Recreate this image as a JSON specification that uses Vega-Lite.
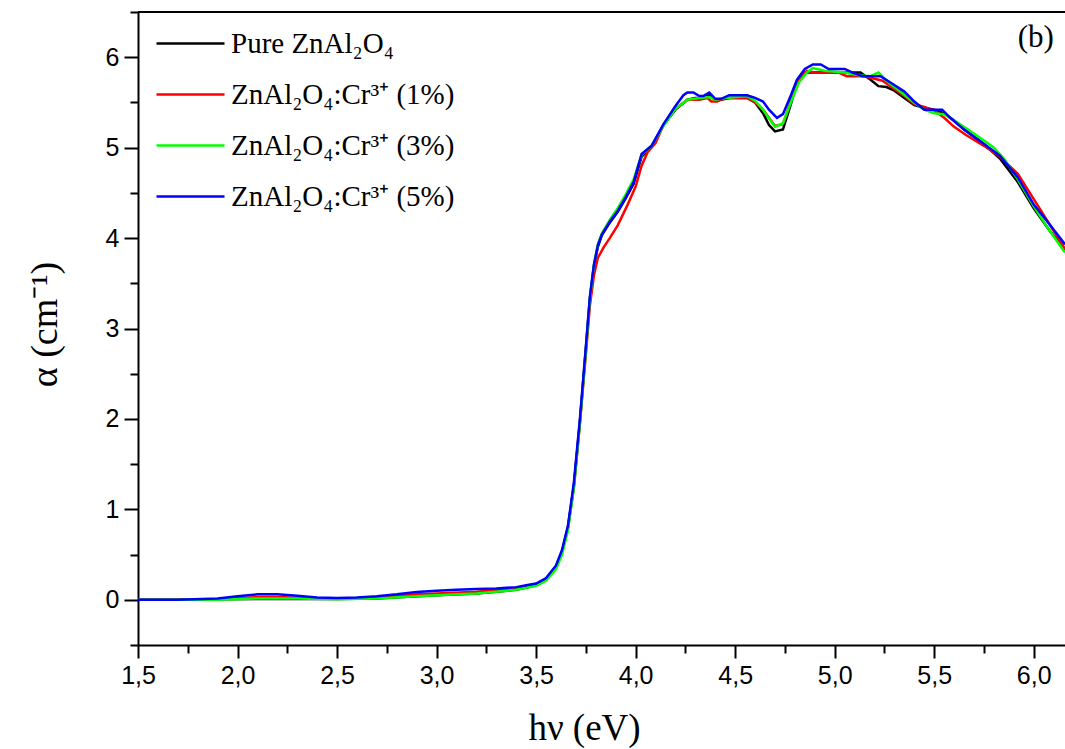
{
  "$schema": "https://vega.github.io/schema/vega-lite/v6.json",
  "width": 927,
  "height": 633,
  "autosize": {"type": "none"},
  "padding": {"left": 138, "top": 12, "right": 0, "bottom": 104},
  "background": "white",
  "config": {"view": {"stroke": null}},
  "datasets": {
    "curves": [
      {"s":"Pure ZnAl₂O₄","x":1.5,"y":0},{"s":"Pure ZnAl₂O₄","x":1.7,"y":0},{"s":"Pure ZnAl₂O₄","x":1.9,"y":0.005},{"s":"Pure ZnAl₂O₄","x":2.1,"y":0.01},{"s":"Pure ZnAl₂O₄","x":2.3,"y":0.01},{"s":"Pure ZnAl₂O₄","x":2.5,"y":0.008},{"s":"Pure ZnAl₂O₄","x":2.7,"y":0.015},{"s":"Pure ZnAl₂O₄","x":2.9,"y":0.04},{"s":"Pure ZnAl₂O₄","x":3.0,"y":0.05},{"s":"Pure ZnAl₂O₄","x":3.2,"y":0.07},{"s":"Pure ZnAl₂O₄","x":3.4,"y":0.11},{"s":"Pure ZnAl₂O₄","x":3.5,"y":0.16},{"s":"Pure ZnAl₂O₄","x":3.55,"y":0.22},{"s":"Pure ZnAl₂O₄","x":3.6,"y":0.36},{"s":"Pure ZnAl₂O₄","x":3.63,"y":0.53},{"s":"Pure ZnAl₂O₄","x":3.66,"y":0.8},{"s":"Pure ZnAl₂O₄","x":3.69,"y":1.27},{"s":"Pure ZnAl₂O₄","x":3.72,"y":1.97},{"s":"Pure ZnAl₂O₄","x":3.75,"y":2.78},{"s":"Pure ZnAl₂O₄","x":3.77,"y":3.33},{"s":"Pure ZnAl₂O₄","x":3.79,"y":3.68},{"s":"Pure ZnAl₂O₄","x":3.81,"y":3.9},{"s":"Pure ZnAl₂O₄","x":3.83,"y":4.03},{"s":"Pure ZnAl₂O₄","x":3.87,"y":4.17},{"s":"Pure ZnAl₂O₄","x":3.91,"y":4.29},{"s":"Pure ZnAl₂O₄","x":3.95,"y":4.44},{"s":"Pure ZnAl₂O₄","x":3.99,"y":4.6},{"s":"Pure ZnAl₂O₄","x":4.03,"y":4.9},{"s":"Pure ZnAl₂O₄","x":4.08,"y":5.01},{"s":"Pure ZnAl₂O₄","x":4.14,"y":5.25},{"s":"Pure ZnAl₂O₄","x":4.2,"y":5.42},{"s":"Pure ZnAl₂O₄","x":4.26,"y":5.53},{"s":"Pure ZnAl₂O₄","x":4.3,"y":5.55},{"s":"Pure ZnAl₂O₄","x":4.34,"y":5.55},{"s":"Pure ZnAl₂O₄","x":4.37,"y":5.58},{"s":"Pure ZnAl₂O₄","x":4.4,"y":5.53},{"s":"Pure ZnAl₂O₄","x":4.43,"y":5.53},{"s":"Pure ZnAl₂O₄","x":4.47,"y":5.55},{"s":"Pure ZnAl₂O₄","x":4.56,"y":5.55},{"s":"Pure ZnAl₂O₄","x":4.6,"y":5.5},{"s":"Pure ZnAl₂O₄","x":4.64,"y":5.38},{"s":"Pure ZnAl₂O₄","x":4.67,"y":5.25},{"s":"Pure ZnAl₂O₄","x":4.7,"y":5.18},{"s":"Pure ZnAl₂O₄","x":4.74,"y":5.2},{"s":"Pure ZnAl₂O₄","x":4.78,"y":5.48},{"s":"Pure ZnAl₂O₄","x":4.81,"y":5.72},{"s":"Pure ZnAl₂O₄","x":4.85,"y":5.83},{"s":"Pure ZnAl₂O₄","x":4.89,"y":5.83},{"s":"Pure ZnAl₂O₄","x":5.0,"y":5.83},{"s":"Pure ZnAl₂O₄","x":5.13,"y":5.83},{"s":"Pure ZnAl₂O₄","x":5.18,"y":5.75},{"s":"Pure ZnAl₂O₄","x":5.22,"y":5.68},{"s":"Pure ZnAl₂O₄","x":5.26,"y":5.67},{"s":"Pure ZnAl₂O₄","x":5.3,"y":5.63},{"s":"Pure ZnAl₂O₄","x":5.35,"y":5.55},{"s":"Pure ZnAl₂O₄","x":5.4,"y":5.47},{"s":"Pure ZnAl₂O₄","x":5.45,"y":5.44},{"s":"Pure ZnAl₂O₄","x":5.5,"y":5.42},{"s":"Pure ZnAl₂O₄","x":5.55,"y":5.38},{"s":"Pure ZnAl₂O₄","x":5.6,"y":5.3},{"s":"Pure ZnAl₂O₄","x":5.65,"y":5.2},{"s":"Pure ZnAl₂O₄","x":5.75,"y":5.04},{"s":"Pure ZnAl₂O₄","x":5.83,"y":4.88},{"s":"Pure ZnAl₂O₄","x":5.92,"y":4.62},{"s":"Pure ZnAl₂O₄","x":6.0,"y":4.33},{"s":"Pure ZnAl₂O₄","x":6.08,"y":4.08},{"s":"Pure ZnAl₂O₄","x":6.157,"y":3.87},

      {"s":"ZnAl₂O₄:Cr³⁺ (1%)","x":1.5,"y":0},{"s":"ZnAl₂O₄:Cr³⁺ (1%)","x":1.7,"y":0},{"s":"ZnAl₂O₄:Cr³⁺ (1%)","x":1.9,"y":0.01},{"s":"ZnAl₂O₄:Cr³⁺ (1%)","x":2.1,"y":0.03},{"s":"ZnAl₂O₄:Cr³⁺ (1%)","x":2.2,"y":0.03},{"s":"ZnAl₂O₄:Cr³⁺ (1%)","x":2.4,"y":0.015},{"s":"ZnAl₂O₄:Cr³⁺ (1%)","x":2.5,"y":0.012},{"s":"ZnAl₂O₄:Cr³⁺ (1%)","x":2.7,"y":0.025},{"s":"ZnAl₂O₄:Cr³⁺ (1%)","x":2.9,"y":0.06},{"s":"ZnAl₂O₄:Cr³⁺ (1%)","x":3.0,"y":0.07},{"s":"ZnAl₂O₄:Cr³⁺ (1%)","x":3.2,"y":0.09},{"s":"ZnAl₂O₄:Cr³⁺ (1%)","x":3.4,"y":0.125},{"s":"ZnAl₂O₄:Cr³⁺ (1%)","x":3.5,"y":0.17},{"s":"ZnAl₂O₄:Cr³⁺ (1%)","x":3.55,"y":0.23},{"s":"ZnAl₂O₄:Cr³⁺ (1%)","x":3.6,"y":0.37},{"s":"ZnAl₂O₄:Cr³⁺ (1%)","x":3.63,"y":0.53},{"s":"ZnAl₂O₄:Cr³⁺ (1%)","x":3.66,"y":0.8},{"s":"ZnAl₂O₄:Cr³⁺ (1%)","x":3.69,"y":1.25},{"s":"ZnAl₂O₄:Cr³⁺ (1%)","x":3.72,"y":1.95},{"s":"ZnAl₂O₄:Cr³⁺ (1%)","x":3.75,"y":2.72},{"s":"ZnAl₂O₄:Cr³⁺ (1%)","x":3.77,"y":3.25},{"s":"ZnAl₂O₄:Cr³⁺ (1%)","x":3.79,"y":3.58},{"s":"ZnAl₂O₄:Cr³⁺ (1%)","x":3.81,"y":3.78},{"s":"ZnAl₂O₄:Cr³⁺ (1%)","x":3.84,"y":3.9},{"s":"ZnAl₂O₄:Cr³⁺ (1%)","x":3.87,"y":4.0},{"s":"ZnAl₂O₄:Cr³⁺ (1%)","x":3.91,"y":4.14},{"s":"ZnAl₂O₄:Cr³⁺ (1%)","x":3.96,"y":4.37},{"s":"ZnAl₂O₄:Cr³⁺ (1%)","x":4.0,"y":4.57},{"s":"ZnAl₂O₄:Cr³⁺ (1%)","x":4.03,"y":4.8},{"s":"ZnAl₂O₄:Cr³⁺ (1%)","x":4.06,"y":4.95},{"s":"ZnAl₂O₄:Cr³⁺ (1%)","x":4.1,"y":5.05},{"s":"ZnAl₂O₄:Cr³⁺ (1%)","x":4.14,"y":5.25},{"s":"ZnAl₂O₄:Cr³⁺ (1%)","x":4.2,"y":5.43},{"s":"ZnAl₂O₄:Cr³⁺ (1%)","x":4.26,"y":5.53},{"s":"ZnAl₂O₄:Cr³⁺ (1%)","x":4.32,"y":5.53},{"s":"ZnAl₂O₄:Cr³⁺ (1%)","x":4.36,"y":5.55},{"s":"ZnAl₂O₄:Cr³⁺ (1%)","x":4.38,"y":5.51},{"s":"ZnAl₂O₄:Cr³⁺ (1%)","x":4.41,"y":5.51},{"s":"ZnAl₂O₄:Cr³⁺ (1%)","x":4.45,"y":5.55},{"s":"ZnAl₂O₄:Cr³⁺ (1%)","x":4.56,"y":5.55},{"s":"ZnAl₂O₄:Cr³⁺ (1%)","x":4.6,"y":5.5},{"s":"ZnAl₂O₄:Cr³⁺ (1%)","x":4.64,"y":5.42},{"s":"ZnAl₂O₄:Cr³⁺ (1%)","x":4.7,"y":5.24},{"s":"ZnAl₂O₄:Cr³⁺ (1%)","x":4.74,"y":5.26},{"s":"ZnAl₂O₄:Cr³⁺ (1%)","x":4.78,"y":5.52},{"s":"ZnAl₂O₄:Cr³⁺ (1%)","x":4.81,"y":5.72},{"s":"ZnAl₂O₄:Cr³⁺ (1%)","x":4.86,"y":5.85},{"s":"ZnAl₂O₄:Cr³⁺ (1%)","x":4.9,"y":5.83},{"s":"ZnAl₂O₄:Cr³⁺ (1%)","x":5.02,"y":5.83},{"s":"ZnAl₂O₄:Cr³⁺ (1%)","x":5.06,"y":5.79},{"s":"ZnAl₂O₄:Cr³⁺ (1%)","x":5.15,"y":5.79},{"s":"ZnAl₂O₄:Cr³⁺ (1%)","x":5.24,"y":5.74},{"s":"ZnAl₂O₄:Cr³⁺ (1%)","x":5.3,"y":5.65},{"s":"ZnAl₂O₄:Cr³⁺ (1%)","x":5.35,"y":5.57},{"s":"ZnAl₂O₄:Cr³⁺ (1%)","x":5.4,"y":5.48},{"s":"ZnAl₂O₄:Cr³⁺ (1%)","x":5.45,"y":5.45},{"s":"ZnAl₂O₄:Cr³⁺ (1%)","x":5.5,"y":5.41},{"s":"ZnAl₂O₄:Cr³⁺ (1%)","x":5.55,"y":5.33},{"s":"ZnAl₂O₄:Cr³⁺ (1%)","x":5.6,"y":5.23},{"s":"ZnAl₂O₄:Cr³⁺ (1%)","x":5.66,"y":5.14},{"s":"ZnAl₂O₄:Cr³⁺ (1%)","x":5.75,"y":5.02},{"s":"ZnAl₂O₄:Cr³⁺ (1%)","x":5.83,"y":4.9},{"s":"ZnAl₂O₄:Cr³⁺ (1%)","x":5.92,"y":4.71},{"s":"ZnAl₂O₄:Cr³⁺ (1%)","x":6.0,"y":4.43},{"s":"ZnAl₂O₄:Cr³⁺ (1%)","x":6.08,"y":4.15},{"s":"ZnAl₂O₄:Cr³⁺ (1%)","x":6.157,"y":3.88},

      {"s":"ZnAl₂O₄:Cr³⁺ (3%)","x":1.5,"y":0},{"s":"ZnAl₂O₄:Cr³⁺ (3%)","x":1.7,"y":0},{"s":"ZnAl₂O₄:Cr³⁺ (3%)","x":1.9,"y":0.0},{"s":"ZnAl₂O₄:Cr³⁺ (3%)","x":2.1,"y":0.015},{"s":"ZnAl₂O₄:Cr³⁺ (3%)","x":2.3,"y":0.015},{"s":"ZnAl₂O₄:Cr³⁺ (3%)","x":2.5,"y":0.005},{"s":"ZnAl₂O₄:Cr³⁺ (3%)","x":2.7,"y":0.015},{"s":"ZnAl₂O₄:Cr³⁺ (3%)","x":2.9,"y":0.04},{"s":"ZnAl₂O₄:Cr³⁺ (3%)","x":3.0,"y":0.05},{"s":"ZnAl₂O₄:Cr³⁺ (3%)","x":3.2,"y":0.07},{"s":"ZnAl₂O₄:Cr³⁺ (3%)","x":3.4,"y":0.11},{"s":"ZnAl₂O₄:Cr³⁺ (3%)","x":3.5,"y":0.155},{"s":"ZnAl₂O₄:Cr³⁺ (3%)","x":3.55,"y":0.21},{"s":"ZnAl₂O₄:Cr³⁺ (3%)","x":3.6,"y":0.34},{"s":"ZnAl₂O₄:Cr³⁺ (3%)","x":3.63,"y":0.5},{"s":"ZnAl₂O₄:Cr³⁺ (3%)","x":3.66,"y":0.77},{"s":"ZnAl₂O₄:Cr³⁺ (3%)","x":3.69,"y":1.24},{"s":"ZnAl₂O₄:Cr³⁺ (3%)","x":3.72,"y":1.95},{"s":"ZnAl₂O₄:Cr³⁺ (3%)","x":3.75,"y":2.75},{"s":"ZnAl₂O₄:Cr³⁺ (3%)","x":3.77,"y":3.32},{"s":"ZnAl₂O₄:Cr³⁺ (3%)","x":3.79,"y":3.7},{"s":"ZnAl₂O₄:Cr³⁺ (3%)","x":3.81,"y":3.93},{"s":"ZnAl₂O₄:Cr³⁺ (3%)","x":3.83,"y":4.05},{"s":"ZnAl₂O₄:Cr³⁺ (3%)","x":3.87,"y":4.2},{"s":"ZnAl₂O₄:Cr³⁺ (3%)","x":3.91,"y":4.33},{"s":"ZnAl₂O₄:Cr³⁺ (3%)","x":3.95,"y":4.48},{"s":"ZnAl₂O₄:Cr³⁺ (3%)","x":3.99,"y":4.65},{"s":"ZnAl₂O₄:Cr³⁺ (3%)","x":4.03,"y":4.92},{"s":"ZnAl₂O₄:Cr³⁺ (3%)","x":4.08,"y":5.02},{"s":"ZnAl₂O₄:Cr³⁺ (3%)","x":4.14,"y":5.24},{"s":"ZnAl₂O₄:Cr³⁺ (3%)","x":4.2,"y":5.43},{"s":"ZnAl₂O₄:Cr³⁺ (3%)","x":4.26,"y":5.53},{"s":"ZnAl₂O₄:Cr³⁺ (3%)","x":4.32,"y":5.55},{"s":"ZnAl₂O₄:Cr³⁺ (3%)","x":4.37,"y":5.56},{"s":"ZnAl₂O₄:Cr³⁺ (3%)","x":4.4,"y":5.53},{"s":"ZnAl₂O₄:Cr³⁺ (3%)","x":4.45,"y":5.55},{"s":"ZnAl₂O₄:Cr³⁺ (3%)","x":4.56,"y":5.57},{"s":"ZnAl₂O₄:Cr³⁺ (3%)","x":4.6,"y":5.52},{"s":"ZnAl₂O₄:Cr³⁺ (3%)","x":4.64,"y":5.42},{"s":"ZnAl₂O₄:Cr³⁺ (3%)","x":4.7,"y":5.23},{"s":"ZnAl₂O₄:Cr³⁺ (3%)","x":4.74,"y":5.27},{"s":"ZnAl₂O₄:Cr³⁺ (3%)","x":4.78,"y":5.5},{"s":"ZnAl₂O₄:Cr³⁺ (3%)","x":4.82,"y":5.72},{"s":"ZnAl₂O₄:Cr³⁺ (3%)","x":4.86,"y":5.83},{"s":"ZnAl₂O₄:Cr³⁺ (3%)","x":4.89,"y":5.88},{"s":"ZnAl₂O₄:Cr³⁺ (3%)","x":4.95,"y":5.85},{"s":"ZnAl₂O₄:Cr³⁺ (3%)","x":5.05,"y":5.83},{"s":"ZnAl₂O₄:Cr³⁺ (3%)","x":5.12,"y":5.8},{"s":"ZnAl₂O₄:Cr³⁺ (3%)","x":5.18,"y":5.79},{"s":"ZnAl₂O₄:Cr³⁺ (3%)","x":5.22,"y":5.83},{"s":"ZnAl₂O₄:Cr³⁺ (3%)","x":5.27,"y":5.72},{"s":"ZnAl₂O₄:Cr³⁺ (3%)","x":5.33,"y":5.62},{"s":"ZnAl₂O₄:Cr³⁺ (3%)","x":5.38,"y":5.53},{"s":"ZnAl₂O₄:Cr³⁺ (3%)","x":5.45,"y":5.42},{"s":"ZnAl₂O₄:Cr³⁺ (3%)","x":5.5,"y":5.38},{"s":"ZnAl₂O₄:Cr³⁺ (3%)","x":5.55,"y":5.37},{"s":"ZnAl₂O₄:Cr³⁺ (3%)","x":5.6,"y":5.3},{"s":"ZnAl₂O₄:Cr³⁺ (3%)","x":5.67,"y":5.2},{"s":"ZnAl₂O₄:Cr³⁺ (3%)","x":5.75,"y":5.08},{"s":"ZnAl₂O₄:Cr³⁺ (3%)","x":5.8,"y":5.0},{"s":"ZnAl₂O₄:Cr³⁺ (3%)","x":5.85,"y":4.88},{"s":"ZnAl₂O₄:Cr³⁺ (3%)","x":5.92,"y":4.65},{"s":"ZnAl₂O₄:Cr³⁺ (3%)","x":6.0,"y":4.35},{"s":"ZnAl₂O₄:Cr³⁺ (3%)","x":6.08,"y":4.08},{"s":"ZnAl₂O₄:Cr³⁺ (3%)","x":6.157,"y":3.84},

      {"s":"ZnAl₂O₄:Cr³⁺ (5%)","x":1.5,"y":0},{"s":"ZnAl₂O₄:Cr³⁺ (5%)","x":1.7,"y":0},{"s":"ZnAl₂O₄:Cr³⁺ (5%)","x":1.9,"y":0.015},{"s":"ZnAl₂O₄:Cr³⁺ (5%)","x":2.0,"y":0.04},{"s":"ZnAl₂O₄:Cr³⁺ (5%)","x":2.1,"y":0.06},{"s":"ZnAl₂O₄:Cr³⁺ (5%)","x":2.2,"y":0.06},{"s":"ZnAl₂O₄:Cr³⁺ (5%)","x":2.3,"y":0.045},{"s":"ZnAl₂O₄:Cr³⁺ (5%)","x":2.4,"y":0.025},{"s":"ZnAl₂O₄:Cr³⁺ (5%)","x":2.5,"y":0.02},{"s":"ZnAl₂O₄:Cr³⁺ (5%)","x":2.6,"y":0.025},{"s":"ZnAl₂O₄:Cr³⁺ (5%)","x":2.7,"y":0.04},{"s":"ZnAl₂O₄:Cr³⁺ (5%)","x":2.8,"y":0.06},{"s":"ZnAl₂O₄:Cr³⁺ (5%)","x":2.9,"y":0.085},{"s":"ZnAl₂O₄:Cr³⁺ (5%)","x":3.0,"y":0.1},{"s":"ZnAl₂O₄:Cr³⁺ (5%)","x":3.1,"y":0.11},{"s":"ZnAl₂O₄:Cr³⁺ (5%)","x":3.2,"y":0.12},{"s":"ZnAl₂O₄:Cr³⁺ (5%)","x":3.3,"y":0.125},{"s":"ZnAl₂O₄:Cr³⁺ (5%)","x":3.4,"y":0.14},{"s":"ZnAl₂O₄:Cr³⁺ (5%)","x":3.45,"y":0.16},{"s":"ZnAl₂O₄:Cr³⁺ (5%)","x":3.5,"y":0.18},{"s":"ZnAl₂O₄:Cr³⁺ (5%)","x":3.55,"y":0.24},{"s":"ZnAl₂O₄:Cr³⁺ (5%)","x":3.6,"y":0.38},{"s":"ZnAl₂O₄:Cr³⁺ (5%)","x":3.63,"y":0.55},{"s":"ZnAl₂O₄:Cr³⁺ (5%)","x":3.66,"y":0.82},{"s":"ZnAl₂O₄:Cr³⁺ (5%)","x":3.69,"y":1.3},{"s":"ZnAl₂O₄:Cr³⁺ (5%)","x":3.72,"y":2.0},{"s":"ZnAl₂O₄:Cr³⁺ (5%)","x":3.75,"y":2.8},{"s":"ZnAl₂O₄:Cr³⁺ (5%)","x":3.77,"y":3.35},{"s":"ZnAl₂O₄:Cr³⁺ (5%)","x":3.79,"y":3.7},{"s":"ZnAl₂O₄:Cr³⁺ (5%)","x":3.81,"y":3.92},{"s":"ZnAl₂O₄:Cr³⁺ (5%)","x":3.83,"y":4.04},{"s":"ZnAl₂O₄:Cr³⁺ (5%)","x":3.87,"y":4.18},{"s":"ZnAl₂O₄:Cr³⁺ (5%)","x":3.91,"y":4.3},{"s":"ZnAl₂O₄:Cr³⁺ (5%)","x":3.95,"y":4.45},{"s":"ZnAl₂O₄:Cr³⁺ (5%)","x":3.99,"y":4.62},{"s":"ZnAl₂O₄:Cr³⁺ (5%)","x":4.03,"y":4.93},{"s":"ZnAl₂O₄:Cr³⁺ (5%)","x":4.08,"y":5.02},{"s":"ZnAl₂O₄:Cr³⁺ (5%)","x":4.14,"y":5.26},{"s":"ZnAl₂O₄:Cr³⁺ (5%)","x":4.2,"y":5.46},{"s":"ZnAl₂O₄:Cr³⁺ (5%)","x":4.24,"y":5.58},{"s":"ZnAl₂O₄:Cr³⁺ (5%)","x":4.26,"y":5.61},{"s":"ZnAl₂O₄:Cr³⁺ (5%)","x":4.29,"y":5.61},{"s":"ZnAl₂O₄:Cr³⁺ (5%)","x":4.32,"y":5.57},{"s":"ZnAl₂O₄:Cr³⁺ (5%)","x":4.34,"y":5.57},{"s":"ZnAl₂O₄:Cr³⁺ (5%)","x":4.37,"y":5.61},{"s":"ZnAl₂O₄:Cr³⁺ (5%)","x":4.4,"y":5.54},{"s":"ZnAl₂O₄:Cr³⁺ (5%)","x":4.43,"y":5.54},{"s":"ZnAl₂O₄:Cr³⁺ (5%)","x":4.47,"y":5.58},{"s":"ZnAl₂O₄:Cr³⁺ (5%)","x":4.56,"y":5.58},{"s":"ZnAl₂O₄:Cr³⁺ (5%)","x":4.6,"y":5.55},{"s":"ZnAl₂O₄:Cr³⁺ (5%)","x":4.64,"y":5.51},{"s":"ZnAl₂O₄:Cr³⁺ (5%)","x":4.67,"y":5.42},{"s":"ZnAl₂O₄:Cr³⁺ (5%)","x":4.71,"y":5.33},{"s":"ZnAl₂O₄:Cr³⁺ (5%)","x":4.74,"y":5.37},{"s":"ZnAl₂O₄:Cr³⁺ (5%)","x":4.78,"y":5.58},{"s":"ZnAl₂O₄:Cr³⁺ (5%)","x":4.81,"y":5.75},{"s":"ZnAl₂O₄:Cr³⁺ (5%)","x":4.85,"y":5.87},{"s":"ZnAl₂O₄:Cr³⁺ (5%)","x":4.89,"y":5.92},{"s":"ZnAl₂O₄:Cr³⁺ (5%)","x":4.93,"y":5.92},{"s":"ZnAl₂O₄:Cr³⁺ (5%)","x":4.97,"y":5.87},{"s":"ZnAl₂O₄:Cr³⁺ (5%)","x":5.05,"y":5.87},{"s":"ZnAl₂O₄:Cr³⁺ (5%)","x":5.09,"y":5.83},{"s":"ZnAl₂O₄:Cr³⁺ (5%)","x":5.14,"y":5.79},{"s":"ZnAl₂O₄:Cr³⁺ (5%)","x":5.23,"y":5.79},{"s":"ZnAl₂O₄:Cr³⁺ (5%)","x":5.28,"y":5.72},{"s":"ZnAl₂O₄:Cr³⁺ (5%)","x":5.35,"y":5.62},{"s":"ZnAl₂O₄:Cr³⁺ (5%)","x":5.4,"y":5.51},{"s":"ZnAl₂O₄:Cr³⁺ (5%)","x":5.45,"y":5.42},{"s":"ZnAl₂O₄:Cr³⁺ (5%)","x":5.54,"y":5.42},{"s":"ZnAl₂O₄:Cr³⁺ (5%)","x":5.58,"y":5.33},{"s":"ZnAl₂O₄:Cr³⁺ (5%)","x":5.65,"y":5.2},{"s":"ZnAl₂O₄:Cr³⁺ (5%)","x":5.75,"y":5.04},{"s":"ZnAl₂O₄:Cr³⁺ (5%)","x":5.83,"y":4.91},{"s":"ZnAl₂O₄:Cr³⁺ (5%)","x":5.92,"y":4.67},{"s":"ZnAl₂O₄:Cr³⁺ (5%)","x":6.0,"y":4.37},{"s":"ZnAl₂O₄:Cr³⁺ (5%)","x":6.08,"y":4.15},{"s":"ZnAl₂O₄:Cr³⁺ (5%)","x":6.157,"y":3.93}
    ],
    "tag": [{"x": 6.01, "y": 6.21, "t": "(b)"}]
  },
  "layer": [
    {
      "data": {"name": "curves"},
      "mark": {"type": "line", "strokeWidth": 2.5, "clip": true},
      "encoding": {
        "x": {
          "field": "x", "type": "quantitative",
          "scale": {"domain": [1.5, 6.157], "nice": false, "zero": false},
          "axis": {
            "orient": "bottom",
            "values": [1.5,1.75,2,2.25,2.5,2.75,3,3.25,3.5,3.75,4,4.25,4.5,4.75,5,5.25,5.5,5.75,6],
            "labelExpr": "abs(datum.value*2 - round(datum.value*2)) < 0.001 ? replace(format(datum.value, '.1f'), '.', ',') : ''",
            "tickSize": {"condition": {"test": "abs(datum.value*2 - round(datum.value*2)) < 0.001", "value": 13}, "value": 8},
            "tickWidth": 2, "tickColor": "black",
            "domainWidth": 2, "domainColor": "black",
            "grid": false,
            "labelFont": "Liberation Sans", "labelFontSize": 25, "labelColor": "black",
            "labelPadding": 5, "labelFlush": false, "labelOverlap": false,
            "title": "hν (eV)",
            "titleFont": "Liberation Serif", "titleFontSize": 37, "titleFontWeight": "normal", "titleColor": "black",
            "titleX": 446, "titleY": 94, "titleBaseline": "alphabetic", "titleAlign": "center"
          }
        },
        "y": {
          "field": "y", "type": "quantitative",
          "scale": {"domain": [-0.5, 6.5], "nice": false, "zero": false},
          "axis": {
            "orient": "left",
            "values": [-0.5,0,0.5,1,1.5,2,2.5,3,3.5,4,4.5,5,5.5,6,6.5],
            "labelExpr": "abs(datum.value - round(datum.value)) < 0.001 ? format(datum.value, 'd') : ''",
            "tickSize": {"condition": {"test": "abs(datum.value - round(datum.value)) < 0.001", "value": 14}, "value": 8},
            "tickWidth": 2, "tickColor": "black",
            "domainWidth": 2, "domainColor": "black",
            "grid": false,
            "labelFont": "Liberation Sans", "labelFontSize": 25, "labelColor": "black",
            "labelPadding": 5, "labelFlush": false, "labelOverlap": false,
            "title": "α (cm⁻¹)",
            "titleFont": "Liberation Serif", "titleFontSize": 38, "titleFontWeight": "normal", "titleColor": "black",
            "titleX": -82, "titleY": 312, "titleBaseline": "alphabetic", "titleAlign": "center", "titleAngle": 270
          }
        },
        "color": {
          "field": "s", "type": "nominal",
          "scale": {
            "domain": ["Pure ZnAl₂O₄", "ZnAl₂O₄:Cr³⁺ (1%)", "ZnAl₂O₄:Cr³⁺ (3%)", "ZnAl₂O₄:Cr³⁺ (5%)"],
            "range": ["#000000", "#ff0000", "#00ff00", "#0000ff"]
          },
          "legend": {
            "title": null,
            "orient": "none", "legendX": 17, "legendY": -4,
            "symbolType": "stroke", "symbolSize": 4624, "symbolStrokeWidth": 2.5,
            "labelFont": "Liberation Serif", "labelFontSize": 29, "labelColor": "black",
            "labelOffset": 5, "rowPadding": -5, "labelLimit": 400
          }
        }
      }
    },
    {
      "data": {"values": [{}]},
      "mark": {"type": "rule", "color": "black", "strokeWidth": 2},
      "encoding": {
        "x": {"datum": 1.5, "type": "quantitative"},
        "y": {"datum": 6.5, "type": "quantitative"},
        "x2": {"datum": 6.157}
      }
    },
    {
      "data": {"name": "tag"},
      "mark": {"type": "text", "font": "Liberation Serif", "fontSize": 31, "color": "black", "align": "center", "baseline": "middle"},
      "encoding": {
        "x": {"field": "x", "type": "quantitative"},
        "y": {"field": "y", "type": "quantitative"},
        "text": {"field": "t"}
      }
    }
  ]
}
